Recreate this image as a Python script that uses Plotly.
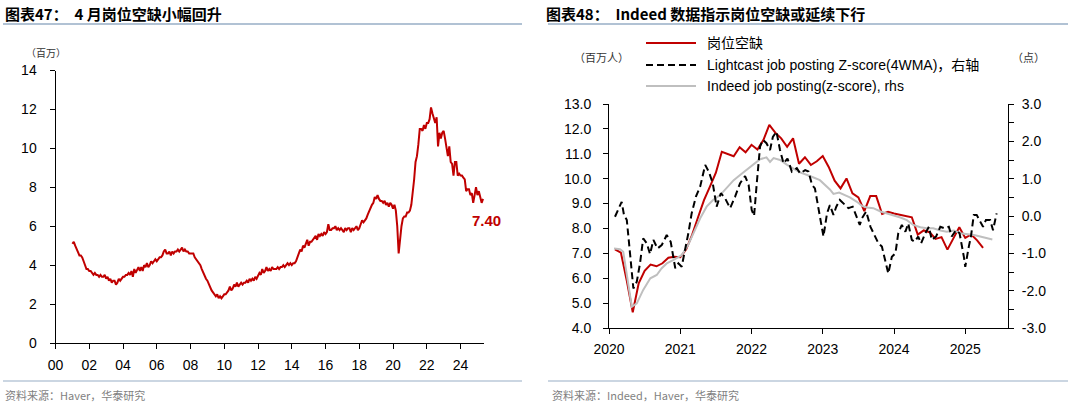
import plotly.graph_objects as go

W, H = 1080, 408

# ---------------- Left chart: US job openings (millions), monthly Dec 2000 - Apr 2025
openings_2000 = [5.1]
openings_2001 = [5.2, 5.0, 4.8, 4.6, 4.5, 4.5, 4.4, 4.2, 4.0, 3.8, 3.8, 3.7]
openings_2002 = [3.7, 3.6, 3.5, 3.6, 3.5, 3.5, 3.4, 3.5, 3.4, 3.4, 3.5, 3.3]
openings_2003 = [3.4, 3.2, 3.3, 3.1, 3.2, 3.2, 3.0, 3.1, 3.3, 3.2, 3.3, 3.4]
openings_2004 = [3.4, 3.5, 3.5, 3.6, 3.5, 3.7, 3.4, 3.8, 3.6, 3.8, 3.9, 3.7]
openings_2005 = [3.9, 3.7, 4.0, 3.9, 4.1, 3.9, 4.0, 4.2, 4.1, 4.2, 4.3, 4.2]
openings_2006 = [4.3, 4.4, 4.4, 4.5, 4.7, 4.8, 4.6, 4.6, 4.7, 4.5, 4.7, 4.6]
openings_2007 = [4.7, 4.7, 4.8, 4.7, 4.8, 4.9, 4.7, 4.8, 4.7, 4.7, 4.6, 4.6]
openings_2008 = [4.6, 4.6, 4.4, 4.3, 4.2, 4.1, 4.0, 3.8, 3.6, 3.4, 3.3, 3.2]
openings_2009 = [3.0, 2.9, 2.7, 2.6, 2.5, 2.4, 2.5, 2.3, 2.4, 2.3, 2.4, 2.5]
openings_2010 = [2.5, 2.6, 2.7, 2.9, 2.7, 2.8, 3.0, 2.9, 3.1, 2.9, 3.0, 3.1]
openings_2011 = [3.0, 3.1, 3.1, 3.2, 3.1, 3.3, 3.2, 3.3, 3.2, 3.4, 3.3, 3.5]
openings_2012 = [3.6, 3.5, 3.8, 3.6, 3.7, 3.9, 3.7, 3.8, 3.7, 3.9, 3.8, 3.8]
openings_2013 = [3.8, 3.9, 3.8, 3.9, 3.9, 4.0, 3.9, 4.0, 4.1, 4.0, 4.1, 4.0]
openings_2014 = [4.1, 4.1, 4.2, 4.4, 4.6, 4.8, 4.7, 5.0, 4.9, 5.1, 5.3, 5.0]
openings_2015 = [5.2, 5.2, 5.3, 5.4, 5.5, 5.3, 5.6, 5.5, 5.6, 5.5, 5.7, 5.6]
openings_2016 = [5.7, 6.1, 5.8, 5.8, 5.9, 5.9, 6.0, 5.8, 5.9, 5.8, 5.9, 5.8]
openings_2017 = [5.7, 5.9, 5.8, 5.9, 5.9, 5.7, 5.9, 5.8, 5.9, 6.0, 5.8, 5.9]
openings_2018 = [6.1, 6.3, 6.2, 6.3, 6.4, 6.6, 6.8, 7.0, 7.1, 7.2, 7.5, 7.4]
openings_2019 = [7.6, 7.4, 7.3, 7.3, 7.2, 7.3, 7.1, 7.2, 7.0, 7.2, 7.1, 6.9]
openings_2020 = [7.1, 6.8, 6.0, 4.6, 5.4, 6.0, 6.4, 6.5, 6.5, 6.7, 6.7, 6.8]
openings_2021 = [7.1, 7.7, 8.4, 9.3, 9.6, 10.2, 11.0, 11.0, 10.9, 11.2, 11.0, 11.3]
openings_2022 = [11.3, 11.5, 12.1, 11.8, 11.6, 11.3, 11.6, 10.1, 10.8, 10.5, 10.8, 10.9]
openings_2023 = [10.5, 9.9, 9.6, 10.1, 9.3, 9.2, 8.6, 9.3, 9.3, 8.6, 8.7, 8.6]
openings_2024 = [8.6, 8.5, 8.4, 7.8, 7.9, 7.9, 7.6, 7.7, 7.2, 7.6, 8.0, 7.6]
openings_2025 = [7.8, 7.5, 7.2, 7.4]
left_years = {2000: openings_2000, 2001: openings_2001, 2002: openings_2002, 2003: openings_2003,
              2004: openings_2004, 2005: openings_2005, 2006: openings_2006, 2007: openings_2007,
              2008: openings_2008, 2009: openings_2009, 2010: openings_2010, 2011: openings_2011,
              2012: openings_2012, 2013: openings_2013, 2014: openings_2014, 2015: openings_2015,
              2016: openings_2016, 2017: openings_2017, 2018: openings_2018, 2019: openings_2019,
              2020: openings_2020, 2021: openings_2021, 2022: openings_2022, 2023: openings_2023,
              2024: openings_2024, 2025: openings_2025}
left_ticks = [2000, 2002, 2004, 2006, 2008, 2010, 2012, 2014, 2016, 2018, 2020, 2022, 2024]
left_ticktext = ["00", "02", "04", "06", "08", "10", "12", "14", "16", "18", "20", "22", "24"]
last_label = "7.40"

# ---------------- Right chart
vac_2020 = [7.16, 7.03, 5.9, 4.63, 5.8, 6.3, 6.55, 6.48, 6.6, 6.82, 6.86, 6.84]
vac_2021 = [7.16, 7.74, 8.45, 9.14, 9.68, 10.24, 11.08, 10.99, 10.9, 11.26, 11.06, 11.36]
vac_2022 = [11.17, 11.55, 12.16, 11.85, 11.62, 11.28, 11.62, 10.6, 10.86, 10.55, 10.7, 10.91]
vac_2023 = [10.47, 9.92, 9.61, 10.01, 9.41, 9.25, 8.7, 9.3, 9.3, 8.58, 8.67, 8.6]
vac_2024 = [8.55, 8.5, 8.45, 7.75, 7.92, 7.85, 7.58, 7.65, 7.15, 7.6, 8.05, 7.62]
vac_2025 = [7.76, 7.52, 7.22]

indeed_t = [2020.07, 2020.155, 2020.2, 2020.32, 2020.39, 2020.48, 2020.58, 2020.67, 2020.74, 2020.81,
            2020.90, 2021.02, 2021.11, 2021.21, 2021.28, 2021.37, 2021.46, 2021.56, 2021.65, 2021.75,
            2021.84, 2021.93, 2022.03, 2022.12, 2022.21, 2022.26, 2022.31, 2022.40, 2022.50, 2022.59,
            2022.68, 2022.82, 2022.96, 2023.10, 2023.15, 2023.23, 2023.31, 2023.38, 2023.48, 2023.55,
            2023.62, 2023.71, 2023.81, 2023.90, 2023.99, 2024.09, 2024.18, 2024.27, 2024.37, 2024.46,
            2024.55, 2024.65, 2024.74, 2024.84, 2024.93, 2025.02, 2025.12, 2025.21, 2025.30, 2025.38]
indeed_z = [-0.87, -0.89, -0.96, -2.43, -2.34, -1.98, -1.67, -1.58, -1.40, -1.27,
            -1.18, -1.05, -0.78, -0.38, -0.06, 0.25, 0.43, 0.56, 0.74, 0.96,
            1.10, 1.23, 1.37, 1.52, 1.57, 1.45, 1.55, 1.50, 1.37, 1.28,
            1.17, 1.07, 0.96, 0.71, 0.59, 0.63, 0.56, 0.50, 0.38, 0.27,
            0.23, 0.21, 0.12, 0.07, 0.03, -0.04, -0.11, -0.24, -0.30, -0.33,
            -0.33, -0.39, -0.42, -0.39, -0.46, -0.48, -0.51, -0.55, -0.60, -0.63]

lightcast_t = [2020.084, 2020.13, 2020.178, 2020.21, 2020.25, 2020.295, 2020.342, 2020.39, 2020.435, 2020.48,
               2020.53, 2020.576, 2020.623, 2020.68, 2020.74, 2020.81, 2020.866, 2020.93, 2020.974, 2021.02,
               2021.07, 2021.114, 2021.16, 2021.22, 2021.28, 2021.35, 2021.40, 2021.456, 2021.51, 2021.57,
               2021.63, 2021.70, 2021.77, 2021.84, 2021.91, 2021.96, 2022.003, 2022.036, 2022.074, 2022.12,
               2022.16, 2022.21, 2022.26, 2022.30, 2022.35, 2022.40, 2022.45, 2022.505, 2022.566, 2022.636,
               2022.683, 2022.753, 2022.80, 2022.85, 2022.89, 2022.94, 2022.99, 2023.01, 2023.06, 2023.10,
               2023.15, 2023.19, 2023.24, 2023.29, 2023.36, 2023.42, 2023.46, 2023.52, 2023.55, 2023.61,
               2023.67, 2023.71, 2023.78, 2023.83, 2023.88, 2023.92, 2023.97, 2024.02, 2024.06, 2024.11,
               2024.16, 2024.20, 2024.25, 2024.29, 2024.34, 2024.38, 2024.44, 2024.49, 2024.53, 2024.59,
               2024.65, 2024.71, 2024.77, 2024.81, 2024.87, 2024.92, 2024.98, 2025.00, 2025.05, 2025.08,
               2025.12, 2025.16, 2025.21, 2025.25, 2025.29, 2025.35, 2025.39, 2025.44]
lightcast_z = [-0.02, 0.16, 0.38, 0.03, -0.11, -1.0, -1.94, -1.76, -1.27, -0.60,
               -0.73, -1.02, -0.64, -0.87, -0.78, -0.51, -0.69, -1.40, -1.27, -1.36,
               -0.91, -0.46, 0.07, 0.52, 0.79, 1.37, 1.19, 0.88, 0.25, 0.61,
               0.47, 0.21, 0.52, 0.88, 1.07, 0.83, 0.16, 0.0, 0.88, 1.86,
               2.04, 1.95, 1.77, 2.12, 2.26, 1.77, 1.41, 1.54, 1.19, 1.28,
               1.14, 1.23, 1.19, 0.83, 0.74, 0.16, -0.33, -0.55, 0.07, 0.29,
               0.03, 0.25, 0.43, 0.34, 0.21, 0.25, 0.03, -0.24, -0.06, 0.12,
               -0.29, -0.46, -0.73, -0.82, -1.18, -1.54, -1.09, -1.0, -0.46, -0.24,
               -0.42, -0.20, -0.64, -0.69, -0.55, -0.73, -0.46, -0.29, -0.64, -0.55,
               -0.29, -0.33, -0.29, -0.55, -0.38, -0.46, -1.09, -1.36, -0.82, -0.55,
               0.03, 0.03, -0.15, -0.29, -0.11, -0.11, -0.38, 0.07]

right_ticks_x = [2020, 2021, 2022, 2023, 2024, 2025]
left_axis_vals = [4, 5, 6, 7, 8, 9, 10, 11, 12, 13]
right_axis_vals = [-3, -2.5, -2, -1.5, -1, -0.5, 0, 0.5, 1, 1.5, 2, 2.5, 3]

series_names = ["岗位空缺", "Lightcast job posting Z-score(4WMA)，右轴", "Indeed job posting(z-score), rhs"]

RED = "#C00000"
GRAY = "#BFBFBF"
FONT = "Liberation Sans, Arial, Noto Sans CJK SC, sans-serif"
CJK = "Noto Sans CJK SC, sans-serif"

# ---- build x positions (month-end decimal years)
left_x, left_y = [], []
for yr, vals in left_years.items():
    start = 12 if yr == 2000 else 1
    for i, v in enumerate(vals):
        left_x.append(yr + (start + i) / 12.0)
        left_y.append(v)

right_years = {2020: vac_2020, 2021: vac_2021, 2022: vac_2022, 2023: vac_2023, 2024: vac_2024, 2025: vac_2025}
vac_x, vac_y = [], []
for yr, vals in right_years.items():
    for i, v in enumerate(vals):
        vac_x.append(yr + (i + 1) / 12.0)
        vac_y.append(v)


def px(x):
    return x / W


def py(y):
    return 1 - y / H


fig = go.Figure()
fig.add_trace(go.Scatter(x=left_x, y=left_y, mode="lines", line=dict(color=RED, width=2),
                         xaxis="x", yaxis="y", showlegend=False, name="岗位空缺"))
fig.add_trace(go.Scatter(x=indeed_t, y=indeed_z, mode="lines", line=dict(color=GRAY, width=2),
                         xaxis="x2", yaxis="y3", showlegend=False, name=series_names[2]))
fig.add_trace(go.Scatter(x=lightcast_t, y=lightcast_z, mode="lines",
                         line=dict(color="#000000", width=2, dash="7px,4px"),
                         xaxis="x2", yaxis="y3", showlegend=False, name=series_names[1]))
fig.add_trace(go.Scatter(x=vac_x, y=vac_y, mode="lines", line=dict(color=RED, width=2),
                         xaxis="x2", yaxis="y2", showlegend=False, name=series_names[0]))

axis_common = dict(showgrid=False, zeroline=False, showline=True, linecolor="#000000", linewidth=1,
                   ticks="outside", ticklen=5, tickcolor="#000000", automargin=False,
                   tickfont=dict(family=FONT, size=14, color="#000000"))

fig.update_layout(
    template="none",
    width=W, height=H, autosize=False,
    margin=dict(l=0, r=0, t=0, b=0, pad=0),
    paper_bgcolor="white", plot_bgcolor="white",
    xaxis=dict(domain=[px(55.5), px(484)], range=[2000, 2025.39], anchor="y",
               tickvals=left_ticks, ticktext=left_ticktext, ticklabelstandoff=4, **axis_common),
    yaxis=dict(domain=[py(343), py(70.5)], range=[0, 14], anchor="x",
               tickvals=[0, 2, 4, 6, 8, 10, 12, 14], ticklabelstandoff=10, **axis_common),
    xaxis2=dict(domain=[px(609), px(1008)], range=[2020, 2025.6], anchor="y2",
                tickvals=right_ticks_x, ticktext=[str(t) for t in right_ticks_x], ticklabelstandoff=3,
                **axis_common),
    yaxis2=dict(domain=[py(328), py(104)], range=[4, 13], anchor="x2",
                tickvals=left_axis_vals, ticktext=["%.1f" % v for v in left_axis_vals],
                ticklabelstandoff=9, **axis_common),
    yaxis3=dict(range=[-3, 3], overlaying="y2", side="right", anchor="x2",
                tickvals=right_axis_vals,
                ticktext=[("%.1f" % v) if float(v).is_integer() else "" for v in right_axis_vals],
                ticklabelstandoff=5, **axis_common),
)

ann = []
shapes = []
# titles
ann.append(dict(x=px(3), y=py(13), xref="paper", yref="paper", xanchor="left", yanchor="middle",
                text="<b>图表47：  4 月岗位空缺小幅回升</b>", showarrow=False,
                font=dict(family=CJK, size=15, color="#000000")))
ann.append(dict(x=px(544), y=py(13), xref="paper", yref="paper", xanchor="left", yanchor="middle",
                text="<b>图表48：  Indeed 数据指示岗位空缺或延续下行</b>", showarrow=False,
                font=dict(family=CJK, size=15, color="#000000")))
for x0, x1 in [(3, 522), (548, 1068)]:
    shapes.append(dict(type="line", xref="paper", yref="paper", x0=px(x0), x1=px(x1), y0=py(24), y1=py(24),
                       line=dict(color="#97AEC6", width=1.5)))
    shapes.append(dict(type="line", xref="paper", yref="paper", x0=px(x0), x1=px(x1), y0=py(381), y1=py(381),
                       line=dict(color="#97AEC6", width=1.2)))
# sources
ann.append(dict(x=px(3), y=py(395), xref="paper", yref="paper", xanchor="left", yanchor="middle",
                text="资料来源：Haver，华泰研究", showarrow=False,
                font=dict(family=CJK, size=11, color="#7F7F7F")))
ann.append(dict(x=px(550), y=py(395), xref="paper", yref="paper", xanchor="left", yanchor="middle",
                text="资料来源：Indeed，Haver，华泰研究", showarrow=False,
                font=dict(family=CJK, size=11, color="#7F7F7F")))
# units
ann.append(dict(x=px(46), y=py(53), xref="paper", yref="paper", xanchor="center", yanchor="middle",
                text="（百万）", showarrow=False, font=dict(family=CJK, size=10, color="#333333")))
ann.append(dict(x=px(601), y=py(57), xref="paper", yref="paper", xanchor="center", yanchor="middle",
                text="（百万人）", showarrow=False, font=dict(family=CJK, size=11, color="#333333")))
ann.append(dict(x=px(1028), y=py(57), xref="paper", yref="paper", xanchor="center", yanchor="middle",
                text="（点）", showarrow=False, font=dict(family=CJK, size=11, color="#333333")))
# last value label
ann.append(dict(x=left_x[-1], y=left_y[-1], xref="x", yref="y", xanchor="center", yanchor="middle",
                xshift=3, yshift=-22, text="<b>%s</b>" % last_label, showarrow=False,
                font=dict(family=FONT, size=15, color=RED)))
# legend (manual)
leg_y = [43, 65, 86]
leg_styles = [dict(color=RED, width=2), dict(color="#000000", width=2, dash="7px,4px"), dict(color=GRAY, width=2)]
for yy, st, name in zip(leg_y, leg_styles, series_names):
    shapes.append(dict(type="line", xref="paper", yref="paper", x0=px(646), x1=px(696), y0=py(yy), y1=py(yy),
                       line=st))
    ann.append(dict(x=px(705), y=py(yy), xref="paper", yref="paper", xanchor="left", yanchor="middle",
                    text=name, showarrow=False, font=dict(family=FONT, size=14, color="#000000")))

fig.update_layout(annotations=ann, shapes=shapes)
fig.write_html("out.html", config={"displayModeBar": False},
               post_script="document.body.style.margin='0';document.body.style.overflow='hidden';")
